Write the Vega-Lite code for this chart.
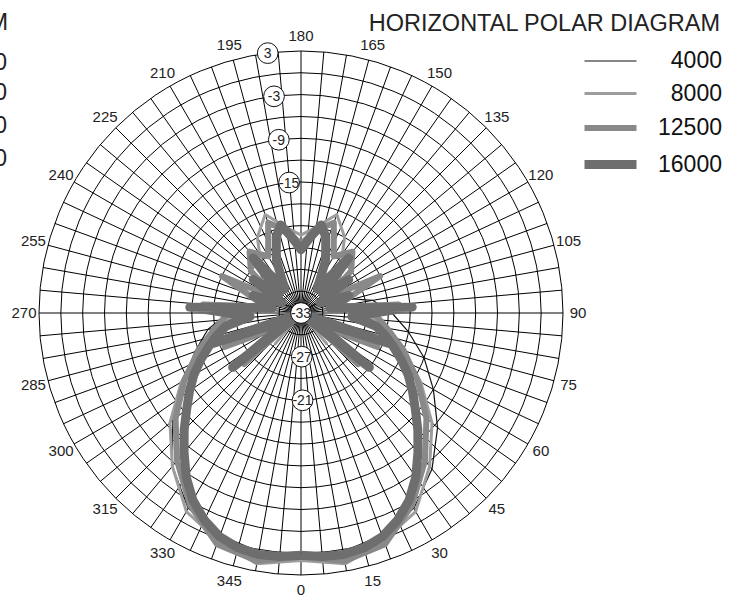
{
  "$schema": "https://vega.github.io/schema/vega-lite/v6.json",
  "width": 524,
  "height": 524,
  "autosize": {"type": "none"},
  "padding": {"left": 39, "top": 51, "right": 182, "bottom": 25},
  "background": "white",
  "config": {"view": {"stroke": null}, "font": "Liberation Sans"},
  "title": {"text": "HORIZONTAL POLAR DIAGRAM", "anchor": "end", "frame": "group", "dx": 157, "dy": 29, "fontSize": 23.5, "fontWeight": "normal", "color": "#222", "font": "Liberation Sans"},
  "datasets": {
    "rings": [{"db": -30}, {"db": -27}, {"db": -24}, {"db": -21}, {"db": -18}, {"db": -15}, {"db": -12}, {"db": -9}, {"db": -6}, {"db": -3}, {"db": 0}, {"db": 3}],
    "spokes": [{"a":0},{"a":5},{"a":10},{"a":15},{"a":20},{"a":25},{"a":30},{"a":35},{"a":40},{"a":45},{"a":50},{"a":55},{"a":60},{"a":65},{"a":70},{"a":75},{"a":80},{"a":85},{"a":90},{"a":95},{"a":100},{"a":105},{"a":110},{"a":115},{"a":120},{"a":125},{"a":130},{"a":135},{"a":140},{"a":145},{"a":150},{"a":155},{"a":160},{"a":165},{"a":170},{"a":175},{"a":180},{"a":185},{"a":190},{"a":195},{"a":200},{"a":205},{"a":210},{"a":215},{"a":220},{"a":225},{"a":230},{"a":235},{"a":240},{"a":245},{"a":250},{"a":255},{"a":260},{"a":265},{"a":270},{"a":275},{"a":280},{"a":285},{"a":290},{"a":295},{"a":300},{"a":305},{"a":310},{"a":315},{"a":320},{"a":325},{"a":330},{"a":335},{"a":340},{"a":345},{"a":350},{"a":355}],
    "anglabels": [{"a":0,"lab":"0"},{"a":15,"lab":"15"},{"a":30,"lab":"30"},{"a":45,"lab":"45"},{"a":60,"lab":"60"},{"a":75,"lab":"75"},{"a":90,"lab":"90"},{"a":105,"lab":"105"},{"a":120,"lab":"120"},{"a":135,"lab":"135"},{"a":150,"lab":"150"},{"a":165,"lab":"165"},{"a":180,"lab":"180"},{"a":195,"lab":"195"},{"a":210,"lab":"210"},{"a":225,"lab":"225"},{"a":240,"lab":"240"},{"a":255,"lab":"255"},{"a":270,"lab":"270"},{"a":285,"lab":"285"},{"a":300,"lab":"300"},{"a":315,"lab":"315"},{"a":330,"lab":"330"},{"a":345,"lab":"345"}],
    "ringlabels": [{"lab":"3","a":187.3,"db":3},{"lab":"-3","a":187.1,"db":-3},{"lab":"-9","a":187.3,"db":-9},{"lab":"-15","a":185.2,"db":-15},{"lab":"-21","a":1,"db":-21},{"lab":"-27","a":1,"db":-27},{"lab":"-33","a":0,"db":-33}],
    "curves": [
      {"f":"4000","p":"a","a":0,"db":0},{"f":"4000","p":"a","a":10,"db":0.3},{"f":"4000","p":"a","a":20,"db":-0.5},{"f":"4000","p":"a","a":30,"db":-2},{"f":"4000","p":"a","a":40,"db":-5},{"f":"4000","p":"a","a":50,"db":-8.5},{"f":"4000","p":"a","a":60,"db":-12},{"f":"4000","p":"a","a":70,"db":-15},{"f":"4000","p":"a","a":80,"db":-18},{"f":"4000","p":"a","a":90,"db":-20.5},{"f":"4000","p":"a","a":100,"db":-23},{"f":"4000","p":"a","a":110,"db":-27},{"f":"4000","p":"a","a":120,"db":-30.5},{"f":"4000","p":"a","a":130,"db":-32},{"f":"4000","p":"a","a":150,"db":-32.5},{"f":"4000","p":"a","a":180,"db":-32.5},{"f":"4000","p":"a","a":210,"db":-32.5},{"f":"4000","p":"a","a":230,"db":-32},{"f":"4000","p":"a","a":240,"db":-31},{"f":"4000","p":"a","a":250,"db":-29},{"f":"4000","p":"a","a":260,"db":-26},{"f":"4000","p":"a","a":270,"db":-23},{"f":"4000","p":"a","a":280,"db":-20},{"f":"4000","p":"a","a":290,"db":-17.5},{"f":"4000","p":"a","a":300,"db":-14.5},{"f":"4000","p":"a","a":310,"db":-10},{"f":"4000","p":"a","a":320,"db":-5.5},{"f":"4000","p":"a","a":330,"db":-2},{"f":"4000","p":"a","a":340,"db":-0.5},{"f":"4000","p":"a","a":350,"db":0.3},{"f":"4000","p":"a","a":360,"db":0},

      {"f":"8000","p":"a","a":0,"db":1},{"f":"8000","p":"a","a":10,"db":2},{"f":"8000","p":"a","a":20,"db":0.3},{"f":"8000","p":"a","a":30,"db":-1.5},{"f":"8000","p":"a","a":40,"db":-5.5},{"f":"8000","p":"a","a":50,"db":-9.5},{"f":"8000","p":"a","a":60,"db":-14},{"f":"8000","p":"a","a":70,"db":-18},{"f":"8000","p":"a","a":80,"db":-21.5},{"f":"8000","p":"a","a":90,"db":-24},{"f":"8000","p":"a","a":100,"db":-26.5},{"f":"8000","p":"a","a":110,"db":-28.5},{"f":"8000","p":"a","a":120,"db":-27},{"f":"8000","p":"a","a":125,"db":-30},{"f":"8000","p":"a","a":130,"db":-26},{"f":"8000","p":"a","a":140,"db":-24.5},{"f":"8000","p":"a","a":150,"db":-21},{"f":"8000","p":"a","a":160,"db":-18.6},{"f":"8000","p":"a","a":170,"db":-21},{"f":"8000","p":"a","a":180,"db":-22.3},{"f":"8000","p":"a","a":190,"db":-21},{"f":"8000","p":"a","a":200,"db":-18.6},{"f":"8000","p":"a","a":210,"db":-21},{"f":"8000","p":"a","a":220,"db":-24.5},{"f":"8000","p":"a","a":230,"db":-26},{"f":"8000","p":"a","a":235,"db":-30},{"f":"8000","p":"a","a":240,"db":-27},{"f":"8000","p":"a","a":250,"db":-28.5},{"f":"8000","p":"a","a":260,"db":-26.5},{"f":"8000","p":"a","a":270,"db":-24},{"f":"8000","p":"a","a":280,"db":-21.5},{"f":"8000","p":"a","a":290,"db":-18},{"f":"8000","p":"a","a":300,"db":-14},{"f":"8000","p":"a","a":310,"db":-9.5},{"f":"8000","p":"a","a":320,"db":-5.5},{"f":"8000","p":"a","a":330,"db":-1.5},{"f":"8000","p":"a","a":340,"db":0.3},{"f":"8000","p":"a","a":350,"db":2},{"f":"8000","p":"a","a":360,"db":1},
      {"f":"8000","p":"b","a":300,"db":-33},{"f":"8000","p":"b","a":308,"db":-27},{"f":"8000","p":"b","a":314,"db":-33},{"f":"8000","p":"b","a":320,"db":-27.5},{"f":"8000","p":"b","a":326,"db":-33},
      {"f":"8000","p":"c","a":34,"db":-33},{"f":"8000","p":"c","a":40,"db":-27.5},{"f":"8000","p":"c","a":46,"db":-33},{"f":"8000","p":"c","a":52,"db":-27},{"f":"8000","p":"c","a":60,"db":-33},

      {"f":"12500","p":"a","a":0,"db":0.5},{"f":"12500","p":"a","a":10,"db":1.6},{"f":"12500","p":"a","a":20,"db":0.8},{"f":"12500","p":"a","a":30,"db":-2.5},{"f":"12500","p":"a","a":40,"db":-6.5},{"f":"12500","p":"a","a":50,"db":-10.5},{"f":"12500","p":"a","a":60,"db":-14.5},{"f":"12500","p":"a","a":70,"db":-18},{"f":"12500","p":"a","a":80,"db":-21},{"f":"12500","p":"a","a":90,"db":-23},{"f":"12500","p":"a","a":95,"db":-19.5},{"f":"12500","p":"a","a":100,"db":-28},{"f":"12500","p":"a","a":110,"db":-25},{"f":"12500","p":"a","a":115,"db":-21},{"f":"12500","p":"a","a":120,"db":-29},{"f":"12500","p":"a","a":130,"db":-24},{"f":"12500","p":"a","a":140,"db":-22},{"f":"12500","p":"a","a":150,"db":-24},{"f":"12500","p":"a","a":160,"db":-19.8},{"f":"12500","p":"a","a":170,"db":-21.5},{"f":"12500","p":"a","a":180,"db":-23.5},{"f":"12500","p":"a","a":190,"db":-21.5},{"f":"12500","p":"a","a":200,"db":-19.8},{"f":"12500","p":"a","a":210,"db":-24},{"f":"12500","p":"a","a":220,"db":-22},{"f":"12500","p":"a","a":230,"db":-24},{"f":"12500","p":"a","a":240,"db":-29},{"f":"12500","p":"a","a":245,"db":-21},{"f":"12500","p":"a","a":250,"db":-25},{"f":"12500","p":"a","a":260,"db":-28},{"f":"12500","p":"a","a":265,"db":-19.5},{"f":"12500","p":"a","a":270,"db":-23},{"f":"12500","p":"a","a":280,"db":-21},{"f":"12500","p":"a","a":290,"db":-18},{"f":"12500","p":"a","a":300,"db":-14.5},{"f":"12500","p":"a","a":310,"db":-10.5},{"f":"12500","p":"a","a":320,"db":-6.5},{"f":"12500","p":"a","a":330,"db":-2.5},{"f":"12500","p":"a","a":340,"db":0.8},{"f":"12500","p":"a","a":350,"db":1.6},{"f":"12500","p":"a","a":360,"db":0.5},
      {"f":"12500","p":"b","a":40,"db":-33},{"f":"12500","p":"b","a":48,"db":-22.5},{"f":"12500","p":"b","a":56,"db":-30},{"f":"12500","p":"b","a":66,"db":-21.5},{"f":"12500","p":"b","a":76,"db":-33},
      {"f":"12500","p":"c","a":284,"db":-33},{"f":"12500","p":"c","a":294,"db":-21.5},{"f":"12500","p":"c","a":304,"db":-30},{"f":"12500","p":"c","a":312,"db":-22.5},{"f":"12500","p":"c","a":320,"db":-33},

      {"f":"16000","p":"a","a":0,"db":0.3},{"f":"16000","p":"a","a":5,"db":0.6},{"f":"16000","p":"a","a":10,"db":0.7},{"f":"16000","p":"a","a":15,"db":0.4},{"f":"16000","p":"a","a":20,"db":-0.3},{"f":"16000","p":"a","a":25,"db":-1.6},{"f":"16000","p":"a","a":30,"db":-3.3},{"f":"16000","p":"a","a":35,"db":-5.5},{"f":"16000","p":"a","a":40,"db":-8},{"f":"16000","p":"a","a":45,"db":-10.3},{"f":"16000","p":"a","a":50,"db":-12.5},{"f":"16000","p":"a","a":55,"db":-14.3},{"f":"16000","p":"a","a":60,"db":-16},{"f":"16000","p":"a","a":65,"db":-17.8},{"f":"16000","p":"a","a":70,"db":-19.5},{"f":"16000","p":"a","a":75,"db":-21},{"f":"16000","p":"a","a":80,"db":-22.5},{"f":"16000","p":"a","a":86,"db":-26},{"f":"16000","p":"a","a":93,"db":-17.7},{"f":"16000","p":"a","a":100,"db":-29},{"f":"16000","p":"a","a":110,"db":-26},{"f":"16000","p":"a","a":118,"db":-30},{"f":"16000","p":"a","a":125,"db":-25},{"f":"16000","p":"a","a":132,"db":-29},{"f":"16000","p":"a","a":139,"db":-23},{"f":"16000","p":"a","a":146,"db":-29},{"f":"16000","p":"a","a":155,"db":-25},{"f":"16000","p":"a","a":162,"db":-22},{"f":"16000","p":"a","a":167,"db":-20.6},{"f":"16000","p":"a","a":173,"db":-22.5},{"f":"16000","p":"a","a":180,"db":-24.3},{"f":"16000","p":"a","a":187,"db":-22.5},{"f":"16000","p":"a","a":193,"db":-20.6},{"f":"16000","p":"a","a":198,"db":-22},{"f":"16000","p":"a","a":205,"db":-25},{"f":"16000","p":"a","a":214,"db":-29},{"f":"16000","p":"a","a":221,"db":-23},{"f":"16000","p":"a","a":228,"db":-29},{"f":"16000","p":"a","a":235,"db":-25},{"f":"16000","p":"a","a":242,"db":-30},{"f":"16000","p":"a","a":250,"db":-26},{"f":"16000","p":"a","a":260,"db":-29},{"f":"16000","p":"a","a":267,"db":-17.7},{"f":"16000","p":"a","a":274,"db":-26},{"f":"16000","p":"a","a":280,"db":-22.5},{"f":"16000","p":"a","a":285,"db":-21},{"f":"16000","p":"a","a":290,"db":-19.5},{"f":"16000","p":"a","a":295,"db":-17.8},{"f":"16000","p":"a","a":300,"db":-16},{"f":"16000","p":"a","a":305,"db":-14.3},{"f":"16000","p":"a","a":310,"db":-12.5},{"f":"16000","p":"a","a":315,"db":-10.3},{"f":"16000","p":"a","a":320,"db":-8},{"f":"16000","p":"a","a":325,"db":-5.5},{"f":"16000","p":"a","a":330,"db":-3.3},{"f":"16000","p":"a","a":335,"db":-1.6},{"f":"16000","p":"a","a":340,"db":-0.3},{"f":"16000","p":"a","a":345,"db":0.4},{"f":"16000","p":"a","a":350,"db":0.7},{"f":"16000","p":"a","a":355,"db":0.6},{"f":"16000","p":"a","a":360,"db":0.3},
      {"f":"16000","p":"b","a":40,"db":-33},{"f":"16000","p":"b","a":51.5,"db":-21},{"f":"16000","p":"b","a":60,"db":-31},{"f":"16000","p":"b","a":71,"db":-20.2},{"f":"16000","p":"b","a":80,"db":-33},
      {"f":"16000","p":"c","a":280,"db":-33},{"f":"16000","p":"c","a":289,"db":-20.2},{"f":"16000","p":"c","a":300,"db":-31},{"f":"16000","p":"c","a":308.5,"db":-21},{"f":"16000","p":"c","a":320,"db":-33}
    ]
  },
  "layer": [
    {
      "data": {"name": "rings"},
      "transform": [
        {"calculate": "datum.db + 33", "as": "r"},
        {"calculate": "0", "as": "cx"}
      ],
      "mark": {"type": "point", "shape": "circle", "filled": false, "stroke": "#000", "strokeWidth": 1, "opacity": 1},
      "encoding": {
        "x": {"field": "cx", "type": "quantitative", "scale": {"domain": [-36, 36], "nice": false, "zero": false}, "axis": null},
        "y": {"field": "cx", "type": "quantitative", "scale": {"domain": [-36, 36], "nice": false, "zero": false}, "axis": null},
        "size": {"field": "r", "type": "quantitative", "scale": {"type": "pow", "exponent": 2, "domain": [0, 36], "range": [0, 274576], "zero": true}, "legend": null}
      }
    },
    {
      "data": {"name": "spokes"},
      "transform": [
        {"calculate": "36*sin(datum.a*PI/180)", "as": "sx"},
        {"calculate": "-36*cos(datum.a*PI/180)", "as": "sy"},
        {"calculate": "0", "as": "cx"}
      ],
      "mark": {"type": "rule", "stroke": "#000", "strokeWidth": 1},
      "encoding": {
        "x": {"field": "cx", "type": "quantitative", "scale": {"domain": [-36, 36], "nice": false, "zero": false}, "axis": null},
        "y": {"field": "cx", "type": "quantitative", "scale": {"domain": [-36, 36], "nice": false, "zero": false}, "axis": null},
        "x2": {"field": "sx"},
        "y2": {"field": "sy"}
      }
    },
    {
      "data": {"name": "curves"},
      "transform": [
        {"window": [{"op": "row_number", "as": "i"}]},
        {"calculate": "max(datum.db + 33, 0)", "as": "r"},
        {"calculate": "datum.r*sin(datum.a*PI/180)", "as": "x"},
        {"calculate": "-datum.r*cos(datum.a*PI/180)", "as": "y"}
      ],
      "mark": {"type": "line", "strokeJoin": "round"},
      "encoding": {
        "x": {"field": "x", "type": "quantitative", "scale": {"domain": [-36, 36], "nice": false, "zero": false}, "axis": null},
        "y": {"field": "y", "type": "quantitative", "scale": {"domain": [-36, 36], "nice": false, "zero": false}, "axis": null},
        "detail": {"field": "p", "type": "nominal"},
        "order": {"field": "i", "type": "quantitative"},
        "color": {"field": "f", "type": "ordinal", "sort": ["4000", "8000", "12500", "16000"],
          "scale": {"type": "ordinal", "domain": ["4000", "8000", "12500", "16000"], "range": ["#111111", "#9d9d9d", "#898989", "#6e6e6e"]},
          "legend": {"orient": "none", "legendX": 554, "legendY": -4, "title": null, "symbolType": "M-2,0H2", "symbolSize": 676, "labelFontSize": 23, "labelFont": "Liberation Sans", "labelColor": "#111", "labelOffset": 94, "labelAlign": "right", "rowPadding": 6, "padding": 0}},
        "strokeWidth": {"field": "f", "type": "ordinal", "sort": ["4000", "8000", "12500", "16000"],
          "scale": {"type": "ordinal", "domain": ["4000", "8000", "12500", "16000"], "range": [1.2, 3, 6, 9]},
          "legend": {"orient": "none", "legendX": 554, "legendY": -4, "title": null, "symbolType": "M-2,0H2", "symbolSize": 676, "labelFontSize": 23, "labelFont": "Liberation Sans", "labelColor": "#111", "labelOffset": 94, "labelAlign": "right", "rowPadding": 6, "padding": 0}}
      }
    },
    {
      "data": {"name": "ringlabels"},
      "transform": [
        {"calculate": "max(datum.db + 33, 0)", "as": "r"},
        {"calculate": "datum.r*sin(datum.a*PI/180)", "as": "x"},
        {"calculate": "-datum.r*cos(datum.a*PI/180)", "as": "y"}
      ],
      "layer": [
        {"mark": {"type": "point", "shape": "circle", "filled": true, "fill": "white", "stroke": "#111", "strokeWidth": 1, "size": 430, "opacity": 1}},
        {"mark": {"type": "text", "fontSize": 14, "fill": "#222", "align": "center", "baseline": "middle", "dy": 1}, "encoding": {"text": {"field": "lab", "type": "nominal"}}}
      ],
      "encoding": {
        "x": {"field": "x", "type": "quantitative", "scale": {"domain": [-36, 36], "nice": false, "zero": false}, "axis": null},
        "y": {"field": "y", "type": "quantitative", "scale": {"domain": [-36, 36], "nice": false, "zero": false}, "axis": null}
      }
    },
    {
      "data": {"name": "anglabels"},
      "transform": [
        {"calculate": "38.06*sin(datum.a*PI/180)", "as": "x"},
        {"calculate": "-38.06*cos(datum.a*PI/180)", "as": "y"}
      ],
      "mark": {"type": "text", "fontSize": 15, "fill": "#222", "align": "center", "baseline": "middle"},
      "encoding": {
        "x": {"field": "x", "type": "quantitative", "scale": {"domain": [-36, 36], "nice": false, "zero": false}, "axis": null},
        "y": {"field": "y", "type": "quantitative", "scale": {"domain": [-36, 36], "nice": false, "zero": false}, "axis": null},
        "text": {"field": "lab", "type": "nominal"}
      }
    },
    {
      "data": {"values": [{"t": "VERTICAL POLAR DIAGRAM", "px": -40.25, "py": 38.9}]},
      "mark": {"type": "text", "fontSize": 23.5, "fill": "#222", "align": "right", "baseline": "alphabetic"},
      "encoding": {
        "x": {"field": "px", "type": "quantitative", "axis": null},
        "y": {"field": "py", "type": "quantitative", "axis": null},
        "text": {"field": "t", "type": "nominal"}
      }
    },
    {
      "data": {"values": [{"t": "4000", "px": -40.4, "py": 33.39}, {"t": "8000", "px": -40.4, "py": 29.27}, {"t": "12500", "px": -40.4, "py": 24.73}, {"t": "16000", "px": -40.4, "py": 20.2}]},
      "mark": {"type": "text", "fontSize": 23, "fill": "#222", "align": "right", "baseline": "alphabetic"},
      "encoding": {
        "x": {"field": "px", "type": "quantitative", "axis": null},
        "y": {"field": "py", "type": "quantitative", "axis": null},
        "text": {"field": "t", "type": "nominal"}
      }
    }
  ]
}
